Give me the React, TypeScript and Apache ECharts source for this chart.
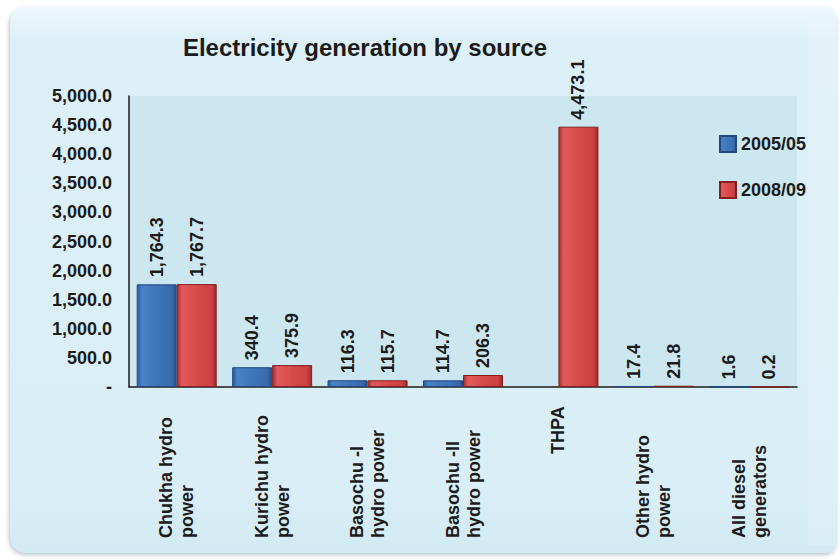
import React, { useEffect, useRef } from "react";
import * as echarts from "echarts";

const categories: string[] = [
  "Chukha hydro\npower",
  "Kurichu hydro\npower",
  "Basochu -I\nhydro power",
  "Basochu -II\nhydro power",
  "THPA",
  "Other hydro\npower",
  "All diesel\ngenerators",
];
const series2005: (number | null)[] = [1764.3, 340.4, 116.3, 114.7, null, 17.4, 1.6];
const series2008: (number | null)[] = [1767.7, 375.9, 115.7, 206.3, 4473.1, 21.8, 0.2];
const seriesNames: string[] = ["2005/05", "2008/09"];
const yTicks = { min: 0, max: 5000, interval: 500 };
const titleText = "Electricity generation by source";

const FONT = "'Liberation Sans', Arial, Helvetica, sans-serif";

const fmt = (v: number) =>
  v.toLocaleString("en-US", { minimumFractionDigits: 1, maximumFractionDigits: 1 });

const blueGrad = new echarts.graphic.LinearGradient(0, 0, 1, 0, [
  { offset: 0, color: "#2b5a9c" },
  { offset: 0.12, color: "#4a82c6" },
  { offset: 0.5, color: "#3f75ba" },
  { offset: 0.88, color: "#386bae" },
  { offset: 1, color: "#27508c" },
]);
const redGrad = new echarts.graphic.LinearGradient(0, 0, 1, 0, [
  { offset: 0, color: "#a82e2e" },
  { offset: 0.12, color: "#e25a5a" },
  { offset: 0.5, color: "#d84a4a" },
  { offset: 0.88, color: "#cd4242" },
  { offset: 1, color: "#9c2727" },
]);

export default function App() {
  const ref = useRef<HTMLDivElement>(null);
  useEffect(() => {
    if (!ref.current) return;
    const chart = echarts.init(ref.current, null, { renderer: "svg" });
    const labelCommon = {
      show: true,
      position: "top" as const,
      rotate: 90,
      align: "left" as const,
      verticalAlign: "middle" as const,
      distance: 7,
      fontFamily: FONT,
      fontSize: 18,
      fontWeight: "bold" as const,
      color: "#1b1b1b",
      formatter: (p: any) => (p.value == null ? "" : fmt(p.value)),
    };
    chart.setOption({
      animation: false,
      backgroundColor: "#ffffff",
      textStyle: { fontFamily: FONT },
      title: {
        text: titleText,
        left: 365,
        top: 35,
        textAlign: "center",
        padding: 0,
        textStyle: { fontFamily: FONT, fontSize: 24, fontWeight: "bold", color: "#1b1b1b" },
      },
      graphic: [
        {
          type: "rect",
          z: -10,
          silent: true,
          shape: { x: 10, y: 7, width: 827, height: 546, r: [16, 12, 12, 16] },
          style: {
            fill: new echarts.graphic.LinearGradient(0, 0, 0, 1, [
              { offset: 0, color: "#eef8fc" },
              { offset: 0.06, color: "#ddf0f7" },
              { offset: 0.9, color: "#d9eef6" },
              { offset: 1, color: "#d2eaf3" },
            ]),
            shadowBlur: 4,
            shadowColor: "rgba(60,90,110,0.35)",
            shadowOffsetX: -1,
            shadowOffsetY: 2,
          },
        },
        {
          type: "rect",
          z: -9,
          silent: true,
          shape: { x: 808, y: 20, width: 28, height: 525, r: 0 },
          style: { fill: "rgba(255,255,255,0.15)" },
        },
      ],
      legend: {
        orient: "vertical",
        left: 714,
        top: 130,
        itemWidth: 16,
        itemHeight: 16,
        itemGap: 28,
        icon: "rect",
        data: seriesNames,
        textStyle: { fontFamily: FONT, fontSize: 18, fontWeight: "bold", color: "#1b1b1b" },
      },
      grid: {
        left: 129,
        right: 43,
        top: 96,
        bottom: 173,
        outerBoundsMode: "none",
        containLabel: false,
        show: true,
        backgroundColor: "#cce7f0",
        borderWidth: 0,
      },
      xAxis: {
        type: "category",
        data: categories.map((c) =>
          c === "THPA"
            ? { value: c, textStyle: { align: "left", verticalAlign: "middle", padding: [0, 0, 0, 84] } }
            : c
        ),
        axisLine: { show: true, lineStyle: { color: "#1b1b1b", width: 1.5 } },
        axisTick: { show: false },
        axisLabel: {
          interval: 0,
          rotate: 90,
          align: "left",
          verticalAlign: "middle",
          margin: 151,
          lineHeight: 21,
          fontFamily: FONT,
          fontSize: 18,
          fontWeight: "bold",
          color: "#1b1b1b",
        },
      },
      yAxis: {
        type: "value",
        min: yTicks.min,
        max: yTicks.max,
        interval: yTicks.interval,
        splitLine: { show: false },
        axisTick: { show: false },
        axisLine: { show: true, lineStyle: { color: "#1b1b1b", width: 1.5 } },
        axisLabel: {
          margin: 17,
          fontFamily: FONT,
          fontSize: 18,
          fontWeight: "bold",
          color: "#1b1b1b",
          formatter: (v: number) => (v === 0 ? "-" : fmt(v)),
        },
      },
      series: [
        {
          name: seriesNames[0],
          type: "bar",
          data: series2005,
          barWidth: 40,
          barGap: "0%",
          itemStyle: { color: blueGrad, borderColor: "#244a80", borderWidth: 1 },
          label: labelCommon,
        },
        {
          name: seriesNames[1],
          type: "bar",
          data: series2008,
          barWidth: 40,
          barGap: "0%",
          itemStyle: { color: redGrad, borderColor: "#862020", borderWidth: 1 },
          label: labelCommon,
        },
      ],
    });
    return () => chart.dispose();
  }, []);
  return (
    <div
      ref={ref}
      style={{ position: "fixed", left: 0, top: 0, width: 840, height: 560 }}
    />
  );
}
